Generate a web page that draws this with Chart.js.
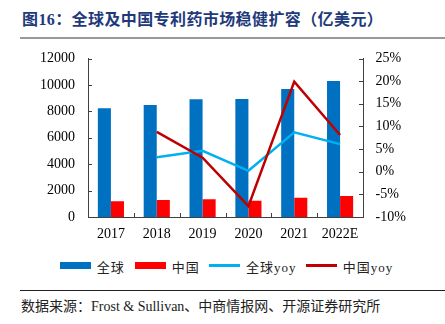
<!DOCTYPE html>
<html>
<head>
<meta charset="utf-8">
<script src="https://cdn.jsdelivr.net/npm/chart.js@4"></script>
<style>
body { margin:0; background:#fff; width:445px; height:324px; position:relative; overflow:hidden; }
#title { position:absolute; left:22px; top:6px; font:bold 16px "Liberation Serif","Noto Sans CJK SC"; letter-spacing:0.4px; color:#1F3A7A; white-space:nowrap; }
#rule1 { position:absolute; left:20px; top:37px; width:425px; height:2px; background:#999; }
#chartBox { position:absolute; left:0; top:0; width:445px; height:250px; }
.lg { position:absolute; top:257px; font:13px "Liberation Serif","Noto Sans CJK SC"; color:#222; white-space:nowrap; letter-spacing:1px; }
.sw { position:absolute; }
#rule2 { position:absolute; left:20px; top:290px; width:425px; height:1px; background:#222; }
#src { position:absolute; left:21px; top:295px; font:14px "Liberation Serif","Noto Sans CJK SC"; color:#222; white-space:nowrap; }
</style>
</head>
<body>
<div id="title">图16：全球及中国专利药市场稳健扩容（亿美元）</div>
<div id="rule1"></div>
<div id="chartBox"><canvas id="marketChart" width="445" height="250"></canvas></div>
<div id="legend"></div>
<div id="rule2"></div>
<div id="src">数据来源：Frost &amp; Sullivan、中商情报网、开源证券研究所</div>
<script>
var years = ['2017', '2018', '2019', '2020', '2021', '2022E'];
var globalSales = [8230, 8480, 8910, 8930, 9690, 10300];
var chinaSales = [1190, 1290, 1340, 1230, 1460, 1590];
var globalYoy = [null, 3.2, 4.6, 0.2, 8.7, 6.1];
var chinaYoy = [null, 8.8, 3.1, -7.6, 19.9, 8.1];
var leftTicks = [0, 2000, 4000, 6000, 8000, 10000, 12000];
var rightTicks = [-10, -5, 0, 5, 10, 15, 20, 25];

var colors = {
    global: '#0070C0',
    china: '#FF0000',
    globalYoy: '#00B0F0',
    chinaYoy: '#C00000'
};
var axisColor = '#404040';
var tickFont = { family: 'Liberation Serif', size: 14 };

// inward tick marks like the excel original
var innerTicks = {
    id: 'innerTicks',
    afterDraw: function (chart) {
        var ctx = chart.ctx;
        var x = chart.scales.x, y = chart.scales.y, y1 = chart.scales.y1;
        var area = chart.chartArea;
        ctx.save();
        ctx.strokeStyle = axisColor;
        ctx.lineWidth = 1;
        ctx.beginPath();
        for (var i = 0; i <= years.length; i++) {
            var px;
            if (i == 0) px = area.left;
            else if (i == years.length) px = area.right;
            else px = (x.getPixelForTick(i - 1) + x.getPixelForTick(i)) / 2;
            px = Math.round(px) + 0.5;
            ctx.moveTo(px, area.bottom);
            ctx.lineTo(px, area.bottom - 4);
        }
        leftTicks.forEach(function (v) {
            var py = Math.round(y.getPixelForValue(v)) + 0.5;
            ctx.moveTo(area.left, py);
            ctx.lineTo(area.left + 4, py);
        });
        rightTicks.forEach(function (v) {
            var py = Math.round(y1.getPixelForValue(v)) + 0.5;
            ctx.moveTo(area.right, py);
            ctx.lineTo(area.right - 4, py);
        });
        ctx.stroke();
        ctx.restore();
    }
};

var marketChart = new Chart('marketChart', {
    type: 'bar',
    data: {
        labels: years,
        datasets: [{
            label: '全球',
            data: globalSales,
            backgroundColor: colors.global,
            yAxisID: 'y',
            order: 2
        }, {
            label: '中国',
            data: chinaSales,
            backgroundColor: colors.china,
            yAxisID: 'y',
            order: 2
        }, {
            type: 'line',
            label: '全球yoy',
            data: globalYoy,
            borderColor: colors.globalYoy,
            borderWidth: 2.5,
            pointRadius: 0,
            tension: 0,
            yAxisID: 'y1',
            order: 1
        }, {
            type: 'line',
            label: '中国yoy',
            data: chinaYoy,
            borderColor: colors.chinaYoy,
            borderWidth: 2.5,
            pointRadius: 0,
            tension: 0,
            yAxisID: 'y1',
            order: 0
        }]
    },
    options: {
        responsive: false,
        animation: false,
        layout: { padding: { top: 58.5, left: 0, right: 0, bottom: 0 } },
        datasets: {
            bar: { categoryPercentage: 0.57, barPercentage: 1 }
        },
        plugins: {
            legend: { display: false },
            tooltip: { enabled: false }
        },
        scales: {
            x: {
                grid: { display: false, drawTicks: false },
                border: { display: true, color: axisColor },
                ticks: { color: '#000', font: tickFont, padding: 9, maxRotation: 0 },
                afterFit: function (s) { s.height = 33; }
            },
            y: {
                position: 'left',
                min: 0,
                max: 12000,
                grid: { display: false, drawTicks: false },
                border: { display: true, color: axisColor },
                ticks: {
                    stepSize: 2000,
                    color: '#000',
                    font: tickFont,
                    padding: 13,
                    callback: function (v) { return String(v); }
                },
                afterFit: function (s) { s.width = 88; }
            },
            y1: {
                position: 'right',
                min: -10,
                max: 25,
                grid: { display: false, drawTicks: false },
                border: { display: true, color: axisColor },
                ticks: {
                    stepSize: 5,
                    color: '#000',
                    font: tickFont,
                    padding: 12.5,
                    callback: function (v) { return v + '%'; }
                },
                afterFit: function (s) { s.width = 82; }
            }
        }
    },
    plugins: [innerTicks]
});

// legend in html, built from the datasets
var legendPos = [
    { sw: 60, txt: 96.7, kind: 'box' },
    { sw: 135, txt: 171.7, kind: 'box' },
    { sw: 209, txt: 246, kind: 'line' },
    { sw: 306, txt: 342.7, kind: 'line' }
];
var lg = document.getElementById('legend');
marketChart.data.datasets.forEach(function (ds, i) {
    var p = legendPos[i];
    var sw = document.createElement('div');
    sw.className = 'sw';
    sw.style.left = p.sw + 'px';
    sw.style.width = '31px';
    if (p.kind == 'box') {
        sw.style.top = '262px';
        sw.style.height = '7px';
        sw.style.background = ds.backgroundColor;
    } else {
        sw.style.top = '264px';
        sw.style.height = '3px';
        sw.style.background = ds.borderColor;
    }
    lg.appendChild(sw);
    var t = document.createElement('div');
    t.className = 'lg';
    t.style.left = p.txt + 'px';
    t.textContent = ds.label;
    lg.appendChild(t);
});
</script>
</body>
</html>
